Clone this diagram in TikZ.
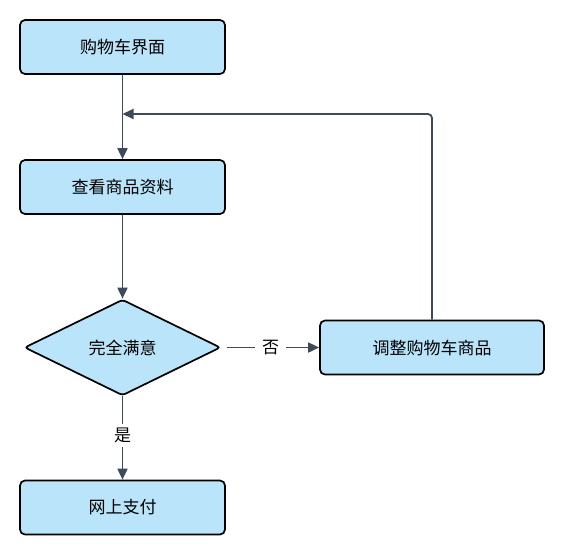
\documentclass[tikz,border=0pt]{standalone}
\usepackage{fontspec}
\newfontfamily\cjk{Noto Sans CJK SC}
\usetikzlibrary{shapes.geometric,arrows.meta}
\definecolor{boxfill}{HTML}{BAE4FA}
\definecolor{edgec}{HTML}{3D4A5C}
\begin{document}
\begin{tikzpicture}[x=1pt,y=-1pt,
  every node/.style={font=\cjk\fontsize{17}{20}\selectfont},
  procbox/.style={draw=black,line width=1.7pt,fill=boxfill,rounded corners=5pt,minimum width=205pt,minimum height=54pt,inner sep=0pt},
  decide/.style={draw=black,line width=1.7pt,fill=boxfill,diamond,aspect=2.05,minimum width=196pt,minimum height=96pt,inner sep=0pt,rounded corners=3pt},
  conn/.style={draw=edgec,line width=1.8pt,-{Triangle[length=11pt,width=10pt]}},
  lbl/.style={fill=white,inner ysep=4pt,inner xsep=7pt}]
\useasboundingbox (0,0) rectangle (564,555);
\node[procbox] (a) at (122.5,47) {购物车界面};
\node[procbox] (b) at (122.5,187) {查看商品资料};
\node[decide] (c) at (122.5,347.5) {完全满意};
\node[procbox,minimum width=224pt] (d) at (432,347.5) {调整购物车商品};
\node[procbox] (e) at (122.5,507.5) {网上支付};
\coordinate (m) at (122.5,114);
\draw[conn] (a) -- (b);
\draw[conn] (b) -- (c);
\draw[conn,rounded corners=4pt] (d.north) |- (m);
\draw[conn] ([xshift=6pt]c.east) -- node[lbl,pos=0.47] {否} (d.west);
\draw[conn] (c.south) -- node[lbl,pos=0.47] {是} (e.north);
\end{tikzpicture}
\end{document}
